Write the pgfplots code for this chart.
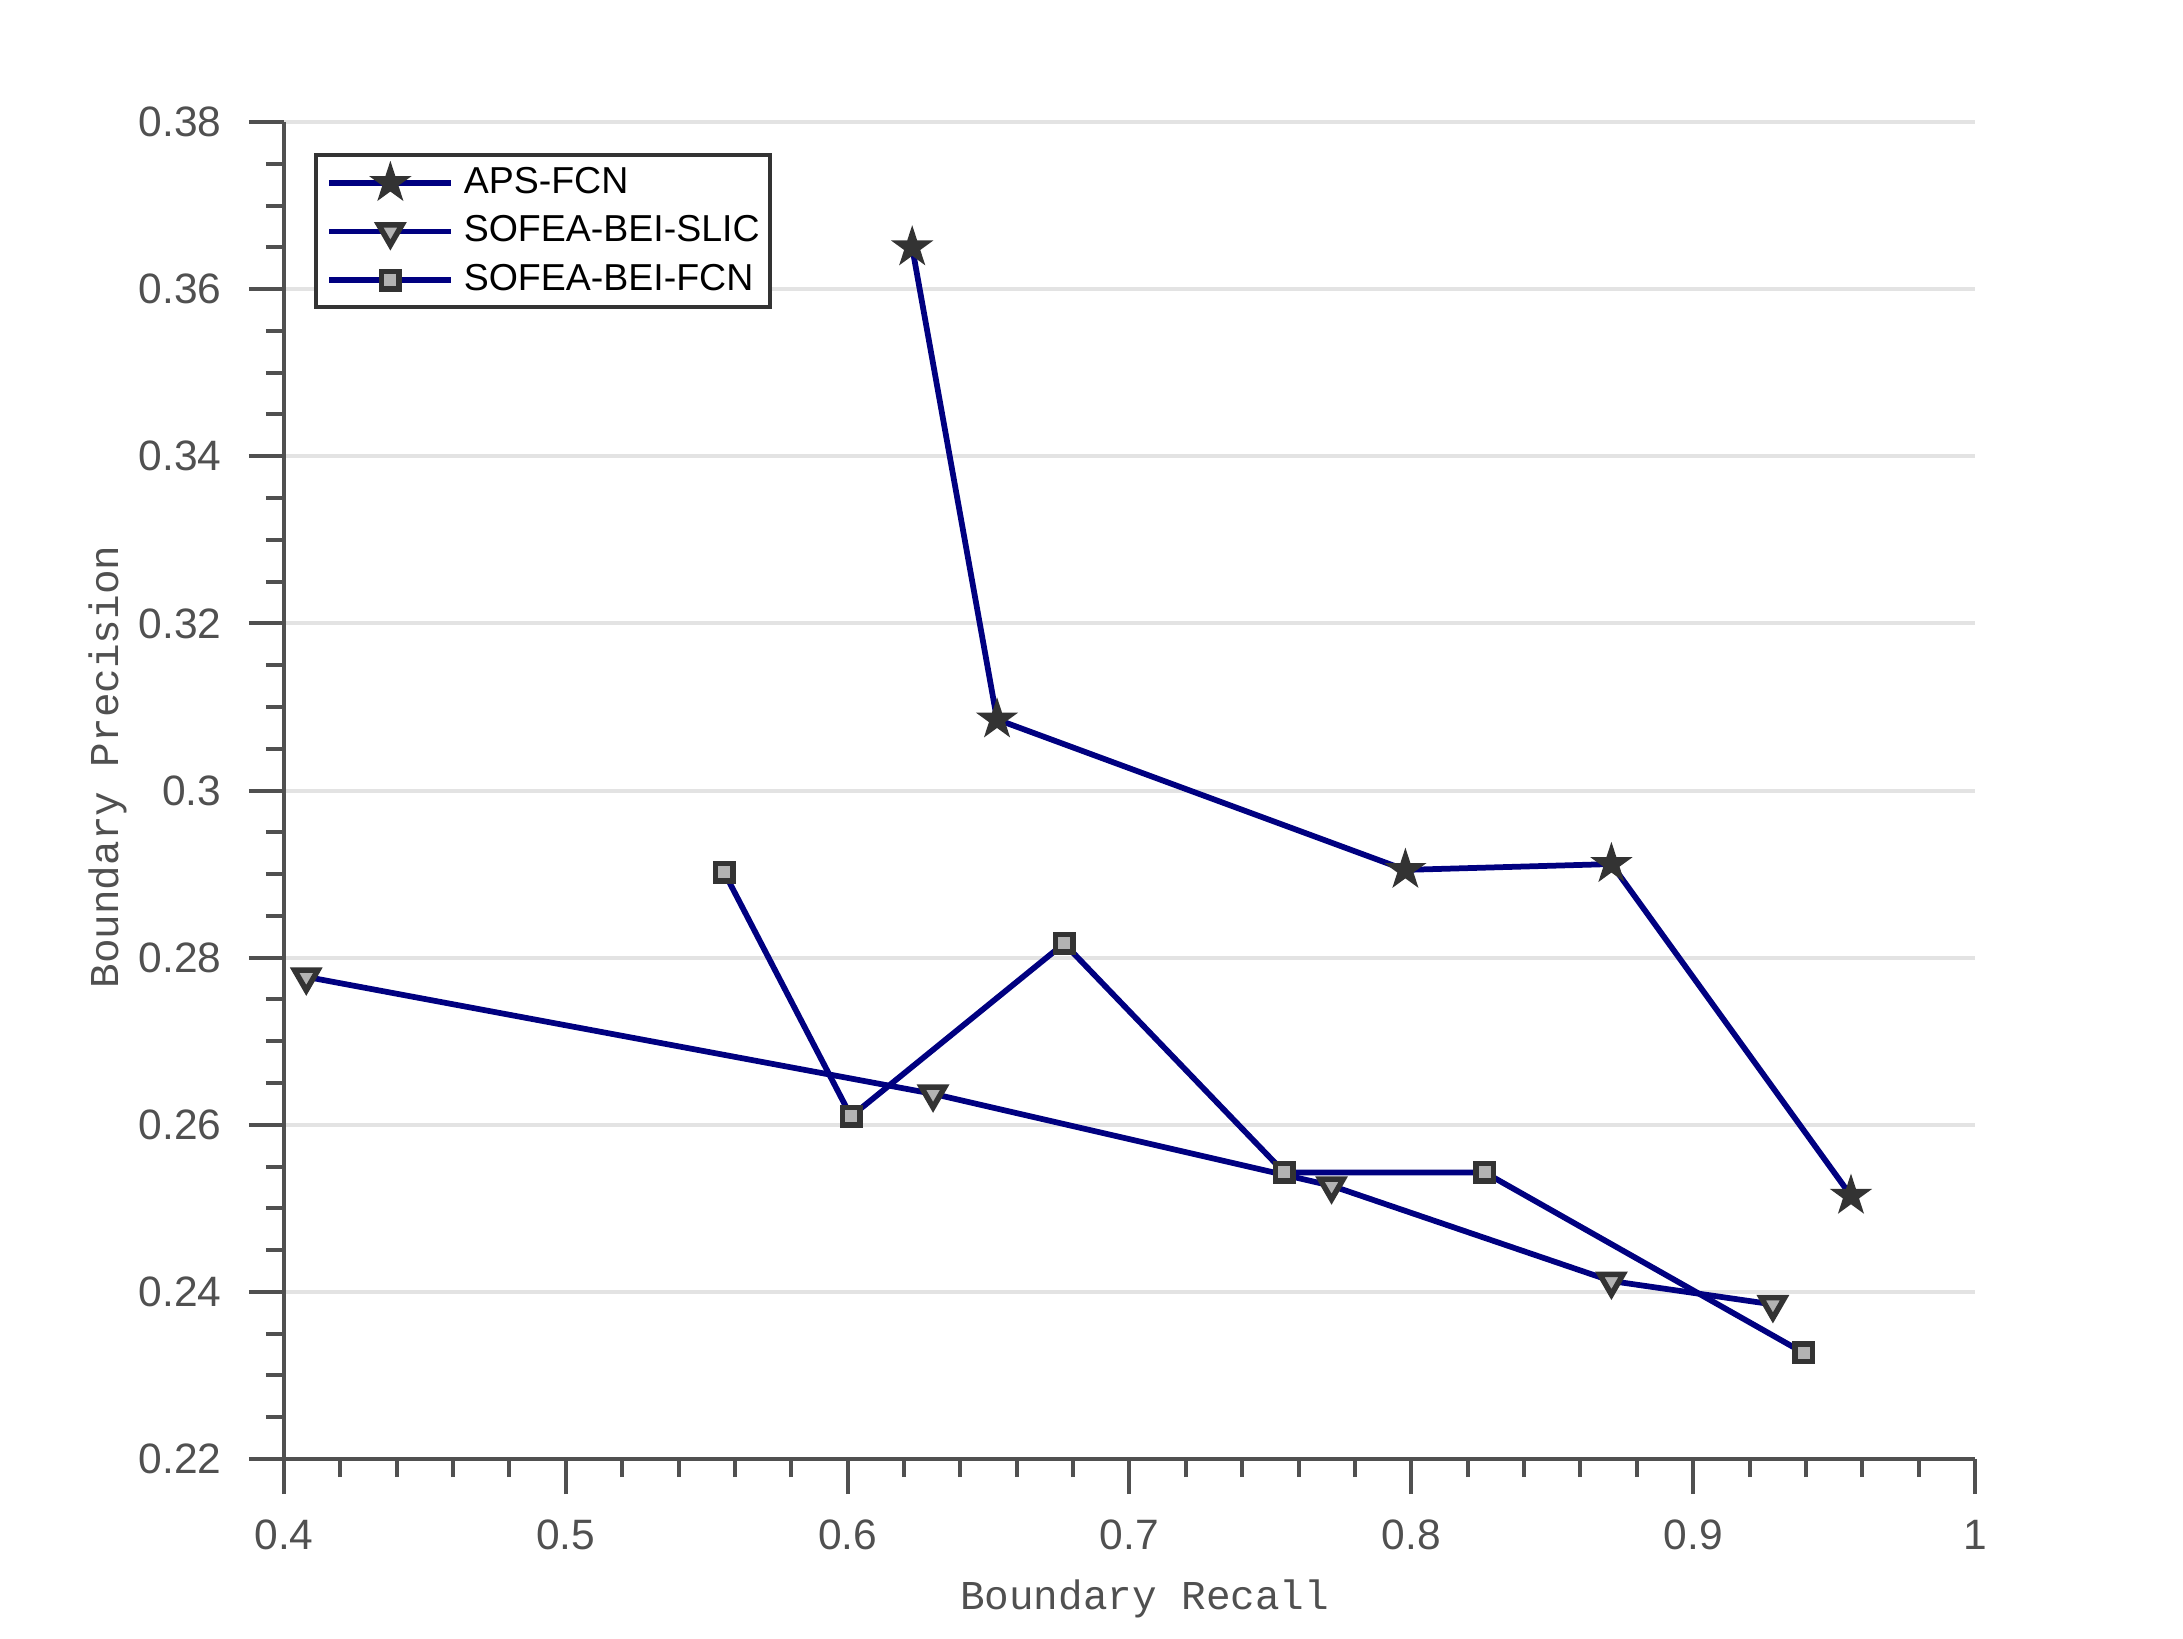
\documentclass[border=0pt]{standalone}
\usepackage{fontspec}
\setmainfont{Liberation Sans}
\newfontfamily\monofont{Liberation Mono}
\usepackage{pgfplots}
\pgfplotsset{compat=1.18}
\definecolor{axisgray}{HTML}{505050}
\definecolor{gridgray}{HTML}{E3E3E3}
\definecolor{navyline}{HTML}{000080}
\definecolor{markdark}{HTML}{333333}
\definecolor{marklight}{HTML}{B3B3B3}
\pgfdeclareplotmark{fstar}{%
  \pgfpathmoveto{\pgfpointpolar{90}{\pgfplotmarksize}}%
  \pgfpathlineto{\pgfpointpolar{126}{0.382\pgfplotmarksize}}%
  \pgfpathlineto{\pgfpointpolar{162}{\pgfplotmarksize}}%
  \pgfpathlineto{\pgfpointpolar{198}{0.382\pgfplotmarksize}}%
  \pgfpathlineto{\pgfpointpolar{234}{\pgfplotmarksize}}%
  \pgfpathlineto{\pgfpointpolar{270}{0.382\pgfplotmarksize}}%
  \pgfpathlineto{\pgfpointpolar{306}{\pgfplotmarksize}}%
  \pgfpathlineto{\pgfpointpolar{342}{0.382\pgfplotmarksize}}%
  \pgfpathlineto{\pgfpointpolar{18}{\pgfplotmarksize}}%
  \pgfpathlineto{\pgfpointpolar{54}{0.382\pgfplotmarksize}}%
  \pgfpathclose
  \pgfusepathqfillstroke
}
\begin{document}
\begin{tikzpicture}
\path[use as bounding box] (-56.8pt,-35.8pt) rectangle (379.8pt,291.8pt);
\begin{axis}[
  at={(0,0)}, anchor=south west,
  scale only axis, width=338.2pt, height=267.4pt,
  xmin=0.4, xmax=1, ymin=0.22, ymax=0.38,
  xtick={0.4,0.5,0.6,0.7,0.8,0.9,1},
  xticklabels={0.4,0.5,0.6,0.7,0.8,0.9,1},
  ytick={0.22,0.24,0.26,0.28,0.30,0.32,0.34,0.36,0.38},
  yticklabels={0.22,0.24,0.26,0.28,0.3,0.32,0.34,0.36,0.38},
  minor x tick num=4, minor y tick num=3,
  axis lines*=left,
  tick align=outside,
  major tick length=7pt, minor tick length=3.6pt,
  axis line style={line width=0.8pt, color=axisgray},
  every tick/.style={line width=0.8pt, color=axisgray},
  ymajorgrids,
  grid style={line width=0.8pt, color=gridgray},
  tick label style={font=\fontsize{8.5}{10}\selectfont, text=axisgray},
  yticklabel style={xshift=-2pt},
  xticklabel style={yshift=-1.7pt},
  xlabel={Boundary Recall},
  ylabel={Boundary Precision},
  label style={font=\monofont\fontsize{8.2}{10}\selectfont, text=axisgray},
  x label style={at={(axis description cs:0.5089,-0.1124)}, anchor=base},
  y label style={at={(axis description cs:-0.0979,0.5176)}, anchor=base},
  legend style={at={(axis description cs:0.01804,0.97681)}, anchor=north west,
    draw=markdark, line width=0.8pt, font=\fontsize{7.5}{9}\selectfont,
    inner xsep=2.0pt, inner ysep=1.8pt, row sep=2.7pt, column sep=1.9pt,
    nodes={inner sep=0pt, text height=5.5pt, text depth=1.5pt}},
  legend cell align=left,
  legend image code/.code={%
    \draw[mark repeat=2,mark phase=2,#1] plot coordinates {(0pt,0pt)(12.2pt,0pt)(24.4pt,0pt)};},
]
\addplot[color=navyline, line width=1.15pt, mark=fstar, mark size=3.8pt,
  mark options={solid, fill=markdark, draw=markdark, line width=0.4pt}]
  coordinates {(0.6229,0.3650) (0.6530,0.3085) (0.7979,0.2905) (0.8710,0.2912) (0.9560,0.2515)};
\addlegendentry{APS-FCN}
\addplot[color=navyline, line width=1.15pt, mark=triangle*, mark size=2.7pt,
  mark options={solid, rotate=180, fill=marklight, draw=markdark, line width=1.1pt}]
  coordinates {(0.4079,0.2777) (0.6303,0.2637) (0.7717,0.2527) (0.8710,0.2413) (0.9283,0.2385)};
\addlegendentry{SOFEA-BEI-SLIC}
\addplot[color=navyline, line width=1.15pt, mark=square*, mark size=1.75pt,
  mark options={solid, fill=marklight, draw=markdark, line width=1.1pt}]
  coordinates {(0.5562,0.2902) (0.6012,0.2610) (0.6768,0.2817) (0.7549,0.2543) (0.8260,0.2543) (0.9392,0.2327)};
\addlegendentry{SOFEA-BEI-FCN}
\end{axis}
\end{tikzpicture}
\end{document}
